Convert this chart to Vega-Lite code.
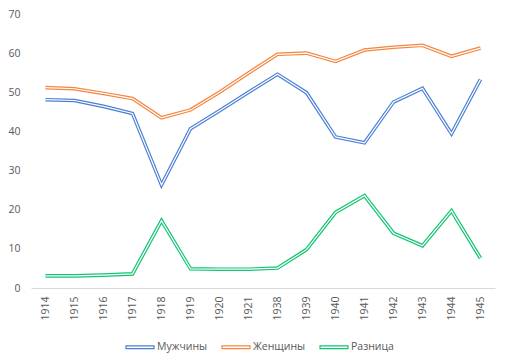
{
  "$schema": "https://vega.github.io/schema/vega-lite/v6.json",
  "width": 464,
  "height": 274,
  "autosize": {"type": "none"},
  "padding": {"left": 31, "top": 14, "right": 14, "bottom": 72},
  "background": "white",
  "config": {
    "view": {"stroke": null},
    "font": "Open Sans",
    "axis": {"labelFont": "Open Sans", "labelColor": "#595959", "labelFontSize": 10.5},
    "legend": {"labelFont": "Open Sans", "labelColor": "#595959", "labelFontSize": 10.5}
  },
  "data": {
    "values": [
      {"year": "1914", "series": "Мужчины", "value": 48.1},
      {"year": "1915", "series": "Мужчины", "value": 47.9},
      {"year": "1916", "series": "Мужчины", "value": 46.4},
      {"year": "1917", "series": "Мужчины", "value": 44.6},
      {"year": "1918", "series": "Мужчины", "value": 26.3},
      {"year": "1919", "series": "Мужчины", "value": 40.7},
      {"year": "1920", "series": "Мужчины", "value": 45.3},
      {"year": "1921", "series": "Мужчины", "value": 50.0},
      {"year": "1938", "series": "Мужчины", "value": 54.6},
      {"year": "1939", "series": "Мужчины", "value": 49.9},
      {"year": "1940", "series": "Мужчины", "value": 38.6},
      {"year": "1941", "series": "Мужчины", "value": 37.1},
      {"year": "1942", "series": "Мужчины", "value": 47.5},
      {"year": "1943", "series": "Мужчины", "value": 51.0},
      {"year": "1944", "series": "Мужчины", "value": 39.4},
      {"year": "1945", "series": "Мужчины", "value": 53.3},
      {"year": "1914", "series": "Женщины", "value": 51.2},
      {"year": "1915", "series": "Женщины", "value": 50.9},
      {"year": "1916", "series": "Женщины", "value": 49.7},
      {"year": "1917", "series": "Женщины", "value": 48.4},
      {"year": "1918", "series": "Женщины", "value": 43.5},
      {"year": "1919", "series": "Женщины", "value": 45.5},
      {"year": "1920", "series": "Женщины", "value": 50.0},
      {"year": "1921", "series": "Женщины", "value": 54.9},
      {"year": "1938", "series": "Женщины", "value": 59.7},
      {"year": "1939", "series": "Женщины", "value": 60.0},
      {"year": "1940", "series": "Женщины", "value": 57.9},
      {"year": "1941", "series": "Женщины", "value": 60.8},
      {"year": "1942", "series": "Женщины", "value": 61.5},
      {"year": "1943", "series": "Женщины", "value": 62.0},
      {"year": "1944", "series": "Женщины", "value": 59.2},
      {"year": "1945", "series": "Женщины", "value": 61.3},
      {"year": "1914", "series": "Разница", "value": 3.1},
      {"year": "1915", "series": "Разница", "value": 3.1},
      {"year": "1916", "series": "Разница", "value": 3.3},
      {"year": "1917", "series": "Разница", "value": 3.6},
      {"year": "1918", "series": "Разница", "value": 17.2},
      {"year": "1919", "series": "Разница", "value": 4.9},
      {"year": "1920", "series": "Разница", "value": 4.8},
      {"year": "1921", "series": "Разница", "value": 4.8},
      {"year": "1938", "series": "Разница", "value": 5.1},
      {"year": "1939", "series": "Разница", "value": 9.8},
      {"year": "1940", "series": "Разница", "value": 19.3},
      {"year": "1941", "series": "Разница", "value": 23.6},
      {"year": "1942", "series": "Разница", "value": 14.0},
      {"year": "1943", "series": "Разница", "value": 10.8},
      {"year": "1944", "series": "Разница", "value": 19.7},
      {"year": "1945", "series": "Разница", "value": 7.6}
    ]
  },
  "encoding": {
    "x": {
      "field": "year", "type": "ordinal", "sort": null,
      "scale": {"type": "point", "padding": 0.5},
      "axis": {"title": null, "labelAngle": -90, "ticks": false, "domainColor": "#D9D9D9", "domainWidth": 1, "labelPadding": 8, "grid": false}
    },
    "y": {
      "field": "value", "type": "quantitative",
      "scale": {"domain": [0, 70], "nice": false, "zero": true},
      "axis": {"title": null, "values": [0, 10, 20, 30, 40, 50, 60, 70], "grid": false, "domain": false, "ticks": false, "labelPadding": 11}
    }
  },
  "layer": [
    {
      "mark": {"type": "line", "strokeWidth": 3.6, "strokeJoin": "miter"},
      "encoding": {
        "color": {
          "field": "series", "type": "nominal",
          "scale": {"domain": ["Мужчины", "Женщины", "Разница"], "range": ["#4A7FD4", "#F5853F", "#12C473"]},
          "legend": {
            "title": null, "orient": "none", "direction": "horizontal",
            "legendX": 94, "legendY": 318,
            "symbolType": "M-1,-0.1H1V0.1H-1Z", "symbolSize": 784,
            "symbolStrokeWidth": 1.2, "symbolFillColor": "white",
            "labelOffset": 2, "columnPadding": 11
          }
        }
      }
    },
    {
      "mark": {"type": "line", "strokeWidth": 1.2, "color": "white", "strokeJoin": "miter"},
      "encoding": {"detail": {"field": "series"}}
    }
  ]
}
